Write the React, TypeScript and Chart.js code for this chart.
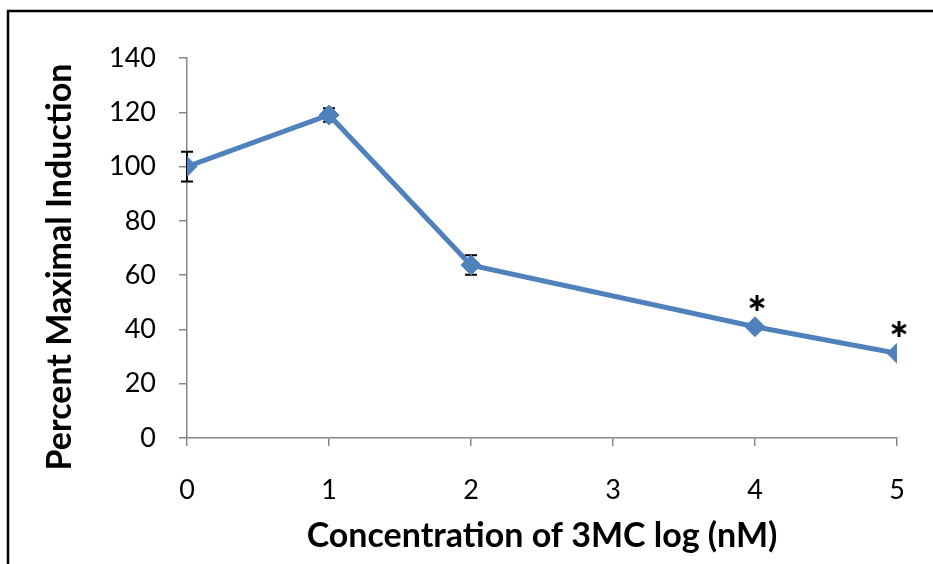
import React, { useEffect, useRef } from "react";
import { Chart, registerables } from "chart.js";

Chart.register(...registerables);

const concentrations = [0, 1, 2, 4, 5];
const induction = [100, 119, 63.7, 41, 31.2];
const errors = [5.5, 2.5, 3.6, 0, 0];
const significance = ["", "", "", "*", "*"];
const xTicks = [0, 1, 2, 3, 4, 5];
const yTicks = [0, 20, 40, 60, 80, 100, 120, 140];
const xTitle = "Concentration of 3MC log (nM)";
const yTitle = "Percent Maximal Induction";

const FONT = "Lato, 'Open Sans', sans-serif";
const LINE_COLOR = "#4f81bd";
const AXIS_COLOR = "#868686";

const framePlugin = {
  id: "frame",
  beforeDraw(chart: any) {
    const ctx = chart.ctx;
    ctx.save();
    ctx.strokeStyle = "#000";
    ctx.lineWidth = 2.5;
    ctx.beginPath();
    ctx.moveTo(8, 564);
    ctx.lineTo(8, 11);
    ctx.lineTo(933, 11);
    ctx.stroke();
    ctx.restore();
  },
};

const yTitlePlugin = {
  id: "yTitle",
  afterDraw(chart: any) {
    const ctx = chart.ctx;
    const area = chart.chartArea;
    ctx.save();
    ctx.fillStyle = "#000";
    ctx.font = `bold 34px ${FONT}`;
    ctx.textAlign = "center";
    ctx.textBaseline = "middle";
    ctx.translate(60, (area.top + area.bottom) / 2 + 19);
    ctx.rotate(-Math.PI / 2);
    ctx.fillText(yTitle, 0, 0);
    ctx.restore();
  },
};

const errorBarPlugin = {
  id: "errorBars",
  beforeDatasetsDraw(chart: any) {
    const ctx = chart.ctx;
    const xs = chart.scales.x;
    const ys = chart.scales.y;
    ctx.save();
    ctx.strokeStyle = "#000";
    ctx.lineWidth = 2;
    concentrations.forEach((c, i) => {
      const e = errors[i];
      if (!e) return;
      const x = xs.getPixelForValue(c);
      const yt = ys.getPixelForValue(induction[i] + e);
      const yb = ys.getPixelForValue(induction[i] - e);
      ctx.beginPath();
      ctx.moveTo(x, yt);
      ctx.lineTo(x, yb);
      ctx.moveTo(x - 6, yt);
      ctx.lineTo(x + 6, yt);
      ctx.moveTo(x - 6, yb);
      ctx.lineTo(x + 6, yb);
      ctx.stroke();
    });
    ctx.restore();
  },
};

const asteriskPlugin = {
  id: "asterisks",
  afterDatasetsDraw(chart: any) {
    const ctx = chart.ctx;
    const xs = chart.scales.x;
    const ys = chart.scales.y;
    ctx.save();
    ctx.fillStyle = "#000";
    ctx.font = `900 46px ${FONT}`;
    ctx.textAlign = "center";
    ctx.textBaseline = "alphabetic";
    concentrations.forEach((c, i) => {
      const s = significance[i];
      if (!s) return;
      const x = xs.getPixelForValue(c);
      const y = ys.getPixelForValue(induction[i]);
      ctx.fillText(s, x + 2, y + 3);
    });
    ctx.restore();
  },
};

export default function App() {
  const canvasRef = useRef<HTMLCanvasElement | null>(null);

  useEffect(() => {
    if (!canvasRef.current) return;
    const chart = new Chart(canvasRef.current, {
      type: "line",
      data: {
        datasets: [
          {
            data: concentrations.map((c, i) => ({ x: c, y: induction[i] })),
            borderColor: LINE_COLOR,
            backgroundColor: LINE_COLOR,
            borderWidth: 5,
            pointStyle: "rectRot",
            pointRadius: 10,
            pointBorderWidth: 1,
            pointBackgroundColor: LINE_COLOR,
            pointBorderColor: LINE_COLOR,
            tension: 0,
          },
        ],
      },
      options: {
        animation: false,
        responsive: true,
        maintainAspectRatio: false,
        layout: { padding: { left: 0, right: 36, top: 58, bottom: 0 } },
        plugins: { legend: { display: false }, tooltip: { enabled: false } },
        scales: {
          x: {
            type: "linear",
            min: 0,
            max: 5,
            afterBuildTicks: (s: any) => {
              s.ticks = xTicks.map((v) => ({ value: v }));
            },
            afterFit: (s: any) => {
              s.height = 126;
            },
            ticks: {
              stepSize: 1,
              padding: 28,
              color: "#000",
              font: { family: FONT, size: 27 },
            },
            grid: {
              drawOnChartArea: false,
              drawTicks: true,
              tickLength: 8,
              color: AXIS_COLOR,
              lineWidth: 1.5,
            },
            border: { color: AXIS_COLOR, width: 1.5 },
            title: {
              display: true,
              text: xTitle,
              color: "#000",
              font: { family: FONT, size: 34, weight: "bold" },
              padding: { top: 0, bottom: 8 },
            },
          },
          y: {
            min: 0,
            max: 140,
            afterBuildTicks: (s: any) => {
              s.ticks = yTicks.map((v) => ({ value: v }));
            },
            afterFit: (s: any) => {
              s.width = 187;
            },
            ticks: {
              stepSize: 20,
              padding: 23,
              color: "#000",
              font: { family: FONT, size: 27 },
            },
            grid: {
              drawOnChartArea: false,
              drawTicks: true,
              tickLength: 8,
              color: AXIS_COLOR,
              lineWidth: 1.5,
            },
            border: { color: AXIS_COLOR, width: 1.5 },
            title: { display: false },
          },
        },
      },
      plugins: [framePlugin, errorBarPlugin, asteriskPlugin, yTitlePlugin],
    });
    return () => chart.destroy();
  }, []);

  return (
    <div
      style={{
        position: "fixed",
        left: 0,
        top: 0,
        width: 933,
        height: 564,
        background: "#fff",
      }}
    >
      <canvas ref={canvasRef} />
    </div>
  );
}
